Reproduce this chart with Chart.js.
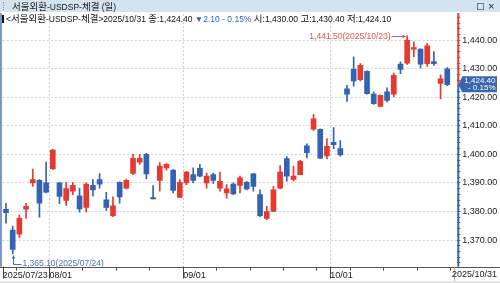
<!DOCTYPE html>
<html><head><meta charset="utf-8">
<script src="https://cdn.jsdelivr.net/npm/chart.js@4.4.1/dist/chart.umd.min.js"></script>
<style>
html,body{margin:0;padding:0;background:#fff;}
#wrap{position:relative;width:500px;height:283px;overflow:hidden;background:#fff;}
#c{position:absolute;left:0;top:0;}
#title{position:absolute;left:0;top:0;width:500px;height:12px;background:#d3e3f0;color:#1a1a1a;
  font-family:"Liberation Sans",sans-serif;font-size:8.5px;line-height:12px;white-space:nowrap;}
#title .ttl{position:absolute;left:12px;top:0;}
#title .grip{position:absolute;left:3px;top:2px;width:1px;height:8px;border-left:1px dotted #8a9aa8;}
#title .ic{position:absolute;right:5px;top:0;font-family:"DejaVu Sans",sans-serif;font-size:9px;}
#info{position:absolute;left:2px;top:12px;height:12px;font-family:"Liberation Sans",sans-serif;
  font-size:8.5px;line-height:12px;color:#111;white-space:nowrap;}
#info .blk{display:inline-block;width:2px;height:8px;background:#111;margin-right:2px;vertical-align:-1px;}
.k{font-family:"Noto Sans CJK KR",sans-serif;font-size:9.5px;}
#info .dn{color:#2f5fc0;}
</style></head>
<body>
<div id="wrap">
<canvas id="c" width="500" height="283"></canvas>
<div id="title"><span class="grip"></span><span class="ttl"><span class="k">서울외환</span>-USDSP-<span class="k">체결</span> (<span class="k">일</span>)</span><span class="ic">□ ×</span></div>
<div id="info"></div>
</div>
<script>
// ---- data ----
const year = '2025';
const dates = ['07/23','07/24','07/25','07/28','07/29','07/30','07/31',
 '08/01','08/04','08/05','08/06','08/07','08/08','08/11','08/12','08/13','08/14','08/18','08/19','08/20','08/21','08/22','08/25','08/26','08/27','08/28','08/29',
 '09/01','09/02','09/03','09/04','09/05','09/08','09/09','09/10','09/11','09/12','09/15','09/16','09/17','09/18','09/19','09/22','09/23','09/24','09/25','09/26','09/29','09/30',
 '10/01','10/02','10/10','10/13','10/14','10/15','10/16','10/17','10/20','10/21','10/22','10/23','10/24','10/27','10/28','10/29','10/30','10/31'];
const opens = [1380.8,1373.5,1372.1,1380.8,1390.0,1390.9,1390.0,
 1394.9,1390.0,1383.9,1387.1,1385.5,1381.4,1389.2,1391.2,1384.1,1378.5,1390.2,1388.2,1393.3,1397.3,1400.0,1384.9,1390.9,1395.3,1394.5,1384.9,
 1390.0,1392.9,1395.1,1390.0,1392.9,1388.2,1386.5,1389.6,1389.1,1390.2,1393.2,1385.9,1377.6,1380.0,1388.2,1398.5,1391.2,1392.9,1403.0,1408.8,1408.8,1399.5,
 1404.2,1402.0,1423.0,1429.8,1426.2,1429.1,1421.1,1416.8,1421.9,1421.1,1431.6,1432.0,1436.9,1436.9,1431.8,1432.5,1424.9,1430.0];
const highs = [1382.9,1374.9,1378.8,1382.9,1394.9,1391.2,1397.3,
 1401.8,1390.2,1390.2,1390.2,1388.2,1390.0,1391.2,1393.3,1386.7,1385.1,1390.4,1391.4,1400.0,1400.0,1400.4,1389.1,1397.1,1396.8,1394.7,1391.2,
 1394.1,1395.3,1396.5,1393.5,1393.5,1393.8,1389.4,1390.0,1392.4,1390.6,1393.4,1387.6,1381.8,1388.8,1396.1,1399.2,1395.9,1397.9,1403.7,1414.0,1409.0,1405.5,
 1409.4,1404.8,1424.2,1434.2,1431.8,1429.3,1421.9,1420.9,1423.3,1428.5,1432.4,1441.5,1439.4,1437.0,1438.8,1436.0,1427.9,1430.4];
const lows = [1375.9,1365.1,1370.9,1377.6,1388.8,1378.0,1386.5,
 1394.7,1382.7,1382.1,1385.9,1379.8,1379.8,1385.5,1388.2,1380.4,1378.2,1382.9,1387.9,1392.9,1396.5,1391.4,1384.4,1387.1,1394.5,1386.5,1384.9,
 1389.4,1390.0,1392.1,1388.2,1389.8,1387.1,1384.7,1385.9,1386.5,1387.6,1387.1,1378.2,1377.1,1380.0,1387.9,1390.6,1390.6,1392.9,1398.8,1408.4,1398.5,1398.5,
 1402.0,1399.4,1418.6,1423.9,1425.7,1421.1,1417.5,1416.8,1418.4,1420.1,1428.3,1431.5,1434.2,1430.3,1430.8,1431.2,1419.4,1424.1];
const closes = [1379.6,1366.7,1377.6,1381.8,1391.2,1382.9,1386.8,
 1401.5,1385.3,1388.0,1389.2,1380.9,1389.6,1387.6,1389.6,1381.4,1382.0,1385.1,1390.9,1398.6,1398.6,1393.2,1384.4,1395.9,1396.5,1387.4,1390.2,
 1393.8,1390.9,1392.4,1392.4,1390.9,1390.6,1387.9,1386.2,1391.8,1387.9,1388.8,1378.5,1380.0,1387.6,1393.8,1392.4,1392.4,1397.6,1400.6,1412.5,1398.7,1402.8,
 1403.4,1399.8,1421.1,1425.7,1431.2,1421.3,1417.8,1420.7,1418.9,1427.7,1429.8,1440.0,1437.4,1431.6,1438.0,1431.8,1426.5,1424.4];
const yTickLabels = [1370,1380,1390,1400,1410,1420,1430,1440];

// ---- styles ----
const RED = '#e63a2e', BLUE = '#3563b3';
const FONT = '"Liberation Sans",Arial,sans-serif';
const Y_MIN = 1360.70, Y_MAX = 1449.18;

const n = dates.length;
const labels = dates.concat(['']);
const bodies = dates.map((d,i)=>[opens[i], closes[i]]);
const wicks = dates.map((d,i)=>[lows[i], highs[i]]);
const colors = dates.map((d,i)=> closes[i] >= opens[i] ? RED : BLUE);
const isMonthStart = i => i > 0 && i < n && dates[i].slice(0,2) !== dates[i-1].slice(0,2);
const fmt = v => v.toLocaleString('en-US',{minimumFractionDigits:2,maximumFractionDigits:2});

// header info
const lastC = closes[n-1], prevC = closes[n-2];
const chg = lastC - prevC, pct = chg / prevC * 100;
const K = s => '<span class="k">' + s + '</span>';
document.getElementById('info').innerHTML =
  '<span class="blk"></span>&lt;' + K('서울외환') + '-USDSP-' + K('체결') + '&gt;' +
  year + '/' + dates[n-1] + ' ' + K('종') + ':' + fmt(lastC) + ' ' +
  '<span class="dn">' + (chg<0?'▼':'▲') + Math.abs(chg).toFixed(2) + ' ' + (pct<0?'-':'+') + ' ' + Math.abs(pct).toFixed(2) + '%</span> ' +
  K('시') + ':' + fmt(opens[n-1]) + ' ' + K('고') + ':' + fmt(highs[n-1]) + ' ' + K('저') + ':' + fmt(lows[n-1]);

const decor = {
  id:'decor',
  beforeDraw(chart){
    const c = chart.ctx; c.save(); c.fillStyle='#fff'; c.fillRect(0,0,chart.width,chart.height); c.restore();
  },
  afterDraw(chart){
    const c = chart.ctx, a = chart.chartArea, xs = chart.scales.x, ys = chart.scales.y;
    const slot = (xs.getPixelForValue(1) - xs.getPixelForValue(0));
    c.save();
    // left edge
    c.fillStyle = '#7d98c4'; c.fillRect(0, 13, 2, a.bottom - 13);
    // x axis line
    c.strokeStyle = '#555'; c.lineWidth = 1;
    c.beginPath(); c.moveTo(0, Math.round(a.bottom)+0.5); c.lineTo(500, Math.round(a.bottom)+0.5); c.stroke();
    // long month ticks
    c.strokeStyle = '#444';
    for (let i = 0; i < n; i++) {
      if (i === 0 || isMonthStart(i)) {
        const x = Math.round(xs.getPixelForValue(i) - slot/2) + 0.5;
        c.beginPath(); c.moveTo(x, a.bottom); c.lineTo(x, a.bottom + 12); c.stroke();
      }
    }
    // bottom strip
    c.fillStyle = '#e4e4e4'; c.fillRect(0, 281, 500, 2);
    c.strokeStyle = '#aaa'; c.beginPath(); c.moveTo(454.5, a.bottom); c.lineTo(454.5, 281); c.stroke();
    // last date label
    c.fillStyle = '#222'; c.font = '9px ' + FONT; c.textAlign = 'right'; c.textBaseline = 'middle';
    c.fillText(year + '/' + dates[n-1], 497, 274.5);
    // price axis line
    const py = ys.getPixelForValue(lastC);
    const ax = a.right + 1;
    c.fillStyle = RED; c.fillRect(ax-1, 13, 2, py - 13);
    c.fillStyle = BLUE; c.fillRect(ax-1, py, 2, a.bottom - py);
    // price tag
    c.fillStyle = '#3a66b0';
    c.beginPath(); c.moveTo(ax, py); c.lineTo(ax+4, py-8.5); c.lineTo(497, py-8.5); c.lineTo(497, py+7.5); c.lineTo(ax+4, py+7.5); c.closePath(); c.fill();
    c.fillStyle = '#fff'; c.font = '8px ' + FONT; c.textAlign = 'right'; c.textBaseline = 'middle';
    c.fillText(fmt(lastC), 495.5, py - 4);
    c.fillText('- ' + Math.abs(pct).toFixed(2) + '%', 495.5, py + 3.5);
    // high annotation
    let hi = 0, lo = 0;
    for (let i = 1; i < n; i++) { if (highs[i] > highs[hi]) hi = i; if (lows[i] < lows[lo]) lo = i; }
    const hx = xs.getPixelForValue(hi) - 1.5, hy = Math.round(ys.getPixelForValue(highs[hi])) + 0.5;
    c.strokeStyle = '#e05548'; c.fillStyle = '#e05548'; c.lineWidth = 1;
    c.beginPath(); c.moveTo(hx - 14, hy); c.lineTo(hx, hy); c.stroke();
    c.beginPath(); c.moveTo(hx, hy); c.lineTo(hx-3, hy-2); c.lineTo(hx-3, hy+2); c.closePath(); c.fill();
    c.font = '8.5px ' + FONT; c.textAlign = 'right'; c.textBaseline = 'middle';
    c.fillText(fmt(highs[hi]) + '(' + year + '/' + dates[hi] + ')', hx - 15, hy);
    // low annotation
    const lx = Math.round(xs.getPixelForValue(lo)) + 0.5, ly = ys.getPixelForValue(lows[lo]) + 1.5;
    c.strokeStyle = '#4a70b8'; c.fillStyle = '#4a70b8';
    c.beginPath(); c.moveTo(lx, ly); c.lineTo(lx, 264.5); c.lineTo(lx + 8, 264.5); c.stroke();
    c.beginPath(); c.moveTo(lx, ly); c.lineTo(lx-2, ly+3); c.lineTo(lx+2, ly+3); c.closePath(); c.fill();
    c.textAlign = 'left';
    c.fillText(fmt(lows[lo]) + '(' + year + '/' + dates[lo] + ')', lx + 9, 263.5);
    c.restore();
  }
};

new Chart(document.getElementById('c'), {
  type: 'bar',
  data: {
    labels: labels,
    datasets: [
      {data: bodies, backgroundColor: colors, barThickness: 5, grouped: false, minBarLength: 1, borderWidth: 0},
      {data: wicks, backgroundColor: colors, barThickness: 1, grouped: false, borderWidth: 0}
    ]
  },
  options: {
    responsive: false, animation: false, devicePixelRatio: 1,
    layout: {padding: {left: 2.66, top: 14, right: 0, bottom: 0}},
    plugins: {legend: {display: false}, tooltip: {enabled: false}},
    scales: {
      x: {
        type: 'category', offset: true,
        grid: {offset: true, lineWidth: 1,
          color: ctx => isMonthStart(ctx.index) ? '#d2d2d2' : 'transparent',
          tickColor: ctx => (ctx.index % 5 === 2 && ctx.index < n + 1) ? '#444' : 'transparent',
          tickLength: 4},
        border: {display: false, dash: [2, 2]},
        ticks: {autoSkip: false, maxRotation: 0, minRotation: 0, align: 'start', labelOffset: -3.34, padding: 0,
          color: '#222', font: {family: FONT, size: 9},
          callback: (v, i) => i === 0 ? year + '/' + dates[0] : (isMonthStart(i) ? dates[i] : '')},
        afterFit: s => { s.height = 16.4; }
      },
      y: {
        position: 'right', min: Y_MIN, max: Y_MAX,
        grid: {lineWidth: 1,
          color: ctx => (ctx.tick && yTickLabels.includes(ctx.tick.value)) ? '#d2d2d2' : 'transparent',
          tickColor: ctx => (ctx.tick && ctx.tick.value > lastC) ? RED : BLUE,
          tickLength: 3},
        border: {display: false, dash: [2, 2]},
        ticks: {stepSize: 2, maxTicksLimit: 100, autoSkip: false, includeBounds: false, padding: 2, color: '#222', font: {family: FONT, size: 9},
          callback: v => yTickLabels.includes(v) ? fmt(v) : ''},
        afterFit: s => { s.width = 42.7; }
      }
    }
  },
  plugins: [decor]
});
</script>
</body></html>
